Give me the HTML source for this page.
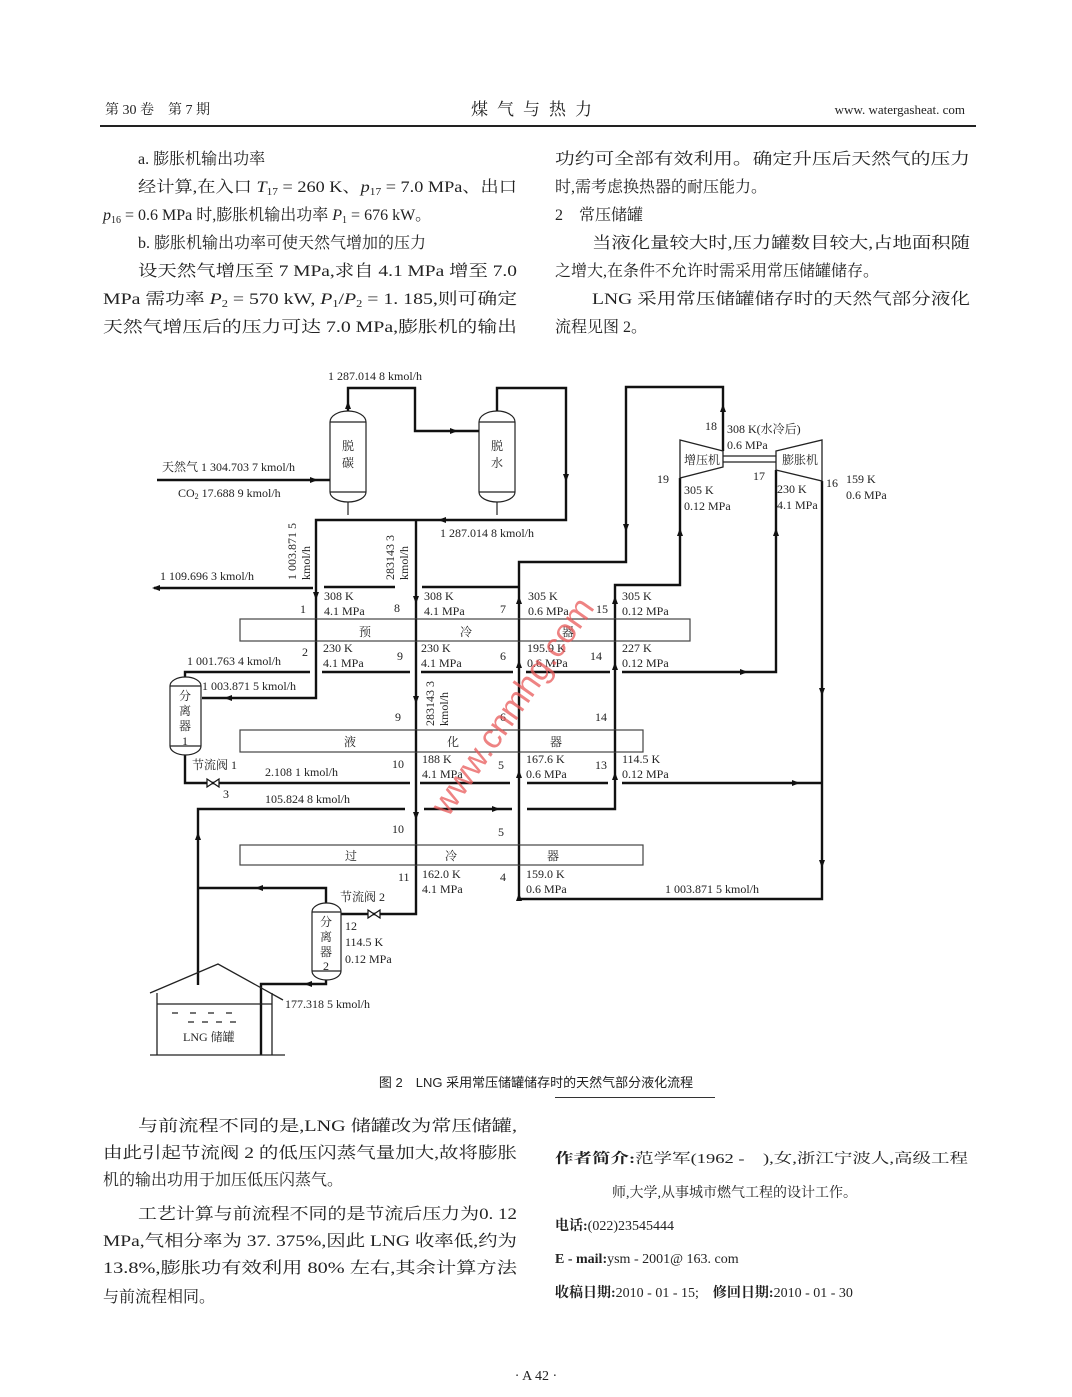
<!DOCTYPE html>
<html><head><meta charset="utf-8"><style>
html,body{margin:0;padding:0;background:#fff;}
svg{display:block;}
.b{font-family:"Liberation Serif","Noto Serif CJK SC",serif;font-size:16px;fill:#222;}
.d{font-family:"Liberation Serif","Noto Serif CJK SC",serif;font-size:12px;fill:#222;}
.p{fill:none;stroke:#111;stroke-width:2.4;}
.bx{fill:none;stroke:#444;stroke-width:1.2;}
</style></head><body>
<svg width="1072" height="1397" viewBox="0 0 1072 1397" xmlns="http://www.w3.org/2000/svg">
<defs>
<polygon id="a" points="0,0 -8,-3 -8,3" fill="#111"/>
</defs>
<!-- header -->
<text class="b" x="105" y="114" style="font-size:14px">第 30 卷　第 7 期</text>
<text class="b" x="536" y="115" text-anchor="middle" style="font-size:17px" letter-spacing="9">煤气与热力</text>
<text class="b" x="965" y="114" text-anchor="end" style="font-size:13px">www. watergasheat. com</text>
<rect x="100" y="125" width="876" height="2" fill="#222"/>

<!-- top text left -->
<text class="b" x="138" y="164">a. 膨胀机输出功率</text>
<text class="b" x="138" y="192" textLength="379" lengthAdjust="spacingAndGlyphs">经计算,在入口 <tspan font-style="italic">T</tspan><tspan font-size="10" dy="3">17</tspan><tspan dy="-3"> = 260 K、</tspan><tspan font-style="italic">p</tspan><tspan font-size="10" dy="3">17</tspan><tspan dy="-3"> = 7.0 MPa、出口</tspan></text>
<text class="b" x="103" y="220"><tspan font-style="italic">p</tspan><tspan font-size="10" dy="3">16</tspan><tspan dy="-3"> = 0.6 MPa 时,膨胀机输出功率 </tspan><tspan font-style="italic">P</tspan><tspan font-size="10" dy="3">1</tspan><tspan dy="-3"> = 676 kW。</tspan></text>
<text class="b" x="138" y="248">b. 膨胀机输出功率可使天然气增加的压力</text>
<text class="b" x="138" y="276" textLength="379" lengthAdjust="spacingAndGlyphs">设天然气增压至 7 MPa,求自 4.1 MPa 增至 7.0</text>
<text class="b" x="103" y="304" textLength="414" lengthAdjust="spacingAndGlyphs">MPa 需功率 <tspan font-style="italic">P</tspan><tspan font-size="10" dy="3">2</tspan><tspan dy="-3"> = 570 kW, </tspan><tspan font-style="italic">P</tspan><tspan font-size="10" dy="3">1</tspan><tspan dy="-3">/</tspan><tspan font-style="italic">P</tspan><tspan font-size="10" dy="3">2</tspan><tspan dy="-3"> = 1. 185,则可确定</tspan></text>
<text class="b" x="103" y="332" textLength="414" lengthAdjust="spacingAndGlyphs">天然气增压后的压力可达 7.0 MPa,膨胀机的输出</text>
<!-- top text right -->
<text class="b" x="555" y="164" textLength="415" lengthAdjust="spacingAndGlyphs">功约可全部有效利用。确定升压后天然气的压力</text>
<text class="b" x="555" y="192">时,需考虑换热器的耐压能力。</text>
<text class="b" x="555" y="220">2　常压储罐</text>
<text class="b" x="592" y="248" textLength="378" lengthAdjust="spacingAndGlyphs">当液化量较大时,压力罐数目较大,占地面积随</text>
<text class="b" x="555" y="276">之增大,在条件不允许时需采用常压储罐储存。</text>
<text class="b" x="592" y="304" textLength="378" lengthAdjust="spacingAndGlyphs">LNG 采用常压储罐储存时的天然气部分液化</text>
<text class="b" x="555" y="332">流程见图 2。</text>

<!-- DIAGRAM -->
<!-- columns -->
<path class="bx" d="M330,422 A18,11 0 0 1 366,422 L366,492 A18,10 0 0 1 330,492 Z M330,422 H366 M330,492 H366" style="stroke:#222"/>
<path class="bx" d="M479,422 A18,11 0 0 1 515,422 L515,492 A18,10 0 0 1 479,492 Z M479,422 H515 M479,492 H515" style="stroke:#222"/>
<text class="d" x="348" y="450" text-anchor="middle" font-size="13">脱</text>
<text class="d" x="348" y="467" text-anchor="middle" font-size="13">碳</text>
<text class="d" x="497" y="450" text-anchor="middle" font-size="13">脱</text>
<text class="d" x="497" y="467" text-anchor="middle" font-size="13">水</text>
<path d="M348,502 V515 M497,502 V515" stroke="#222" stroke-width="1.2"/>

<path class="p" d="M348,411 V388 H415 V431 H479"/>
<path class="p" d="M497,411 V388 H566 V520 H316 V698 H202"/>
<use href="#a" transform="translate(348,401) rotate(-90)"/>
<use href="#a" transform="translate(458,431)"/>
<use href="#a" transform="translate(566,482) rotate(90)"/>
<use href="#a" transform="translate(438,520) rotate(180)"/>
<use href="#a" transform="translate(224,698) rotate(180)"/>
<use href="#a" transform="translate(316,600) rotate(90)"/>
<!-- feed -->
<path class="p" d="M157,480 H330"/>
<use href="#a" transform="translate(318,480)"/>
<text class="d" x="162" y="471">天然气 1 304.703 7 kmol/h</text>
<text class="d" x="178" y="497">CO<tspan font-size="8" dy="2">2</tspan><tspan dy="-2"> 17.688 9 kmol/h</tspan></text>
<text class="d" x="328" y="380">1 287.014 8 kmol/h</text>
<text class="d" x="440" y="537">1 287.014 8 kmol/h</text>
<!-- stream 1 out -->
<path class="p" d="M154,588 H313"/>
<use href="#a" transform="translate(152,588) rotate(180)"/>
<text class="d" x="160" y="580">1 109.696 3 kmol/h</text>
<text class="d" transform="translate(296,580) rotate(-90)">1 003.871 5</text>
<text class="d" transform="translate(310,580) rotate(-90)">kmol/h</text>
<text class="d" transform="translate(394,580) rotate(-90)">283143 3</text>
<text class="d" transform="translate(408,580) rotate(-90)">kmol/h</text>
<text class="d" transform="translate(434,726) rotate(-90)">283143 3</text>
<text class="d" transform="translate(448,726) rotate(-90)">kmol/h</text>

<!-- vertical 416 -->
<path class="p" d="M416,520 V914 H341"/>
<use href="#a" transform="translate(416,604) rotate(90)"/>
<use href="#a" transform="translate(416,704) rotate(90)"/>
<use href="#a" transform="translate(416,820) rotate(90)"/>
<!-- segments above precooler -->
<path class="p" d="M324,587 H395 M422,587 H519"/>
<!-- 519 loop to compressor outlet -->
<path class="p" d="M519,899 V562 H626 V387 H723 V451"/>
<use href="#a" transform="translate(519,596) rotate(-90)"/>
<use href="#a" transform="translate(519,660) rotate(-90)"/>
<use href="#a" transform="translate(519,770) rotate(-90)"/>
<use href="#a" transform="translate(519,893) rotate(-90)"/>
<use href="#a" transform="translate(626,532) rotate(90)"/>
<use href="#a" transform="translate(723,404) rotate(-90)"/>
<path class="p" d="M519,899 H822 V481"/>
<use href="#a" transform="translate(822,696) rotate(90)"/>
<use href="#a" transform="translate(822,868) rotate(90)"/>
<!-- 615 loop to compressor inlet -->
<path class="p" d="M527,809 H615 V585 H680 V478"/>
<use href="#a" transform="translate(615,596) rotate(-90)"/>
<use href="#a" transform="translate(615,662) rotate(-90)"/>
<use href="#a" transform="translate(615,772) rotate(-90)"/>
<use href="#a" transform="translate(680,528) rotate(-90)"/>
<!-- expander inlet -->
<path class="p" d="M622,672 H776 V470"/>
<use href="#a" transform="translate(748,672)"/>
<use href="#a" transform="translate(776,528) rotate(-90)"/>
<!-- lines below precooler -->
<path class="p" d="M185,686 V672 H310 M322,672 H410 M421,672 H513 M526,672 H610"/>
<!-- liquefier lines -->
<path class="p" d="M185,755 V783 H410 M420,783 H510 M527,783 H608 M622,783 H822"/>
<use href="#a" transform="translate(800,783)"/>
<path class="p" d="M198,985 V809 H405 M424,809 H512"/>
<use href="#a" transform="translate(500,809)"/>
<use href="#a" transform="translate(198,832) rotate(-90)"/>
<!-- sep2 lines -->
<path class="p" d="M326,903 V888 H198"/>
<use href="#a" transform="translate(255,888) rotate(180)"/>
<path class="p" d="M326,980 V984 H261 V1055"/>
<use href="#a" transform="translate(304,984) rotate(180)"/>
<!-- valves -->
<path d="M207,779 L219,787 L219,779 L207,787 Z" fill="#fff" stroke="#111" stroke-width="1.2"/>
<path d="M368,910 L380,918 L380,910 L368,918 Z" fill="#fff" stroke="#111" stroke-width="1.2"/>

<!-- exchangers -->
<rect class="bx" x="240" y="619" width="450" height="22" fill="#fff"/>
<rect class="bx" x="240" y="730" width="403" height="22" fill="#fff"/>
<rect class="bx" x="240" y="845" width="403" height="20" fill="#fff"/>
<path class="p" d="M316,619 V641 M416,619 V641 M519,619 V641 M615,619 V641 M416,730 V752 M519,730 V752 M615,730 V752 M416,845 V865 M519,845 V865" style="stroke-width:1.2"/>
<text class="d" x="365" y="636" text-anchor="middle">预</text>
<text class="d" x="466" y="636" text-anchor="middle">冷</text>
<text class="d" x="568" y="636" text-anchor="middle">器</text>
<text class="d" x="350" y="746" text-anchor="middle">液</text>
<text class="d" x="453" y="746" text-anchor="middle">化</text>
<text class="d" x="556" y="746" text-anchor="middle">器</text>
<text class="d" x="351" y="860" text-anchor="middle">过</text>
<text class="d" x="451" y="860" text-anchor="middle">冷</text>
<text class="d" x="553" y="860" text-anchor="middle">器</text>

<!-- separator 1 -->
<path d="M170,686 A15.5,9 0 0 1 201,686 L201,746 A15.5,9 0 0 1 170,746 Z M170,686 H201 M170,746 H201" fill="#fff" stroke="#222" stroke-width="1.2"/>
<text class="d" x="185" y="700" text-anchor="middle">分</text>
<text class="d" x="185" y="715" text-anchor="middle">离</text>
<text class="d" x="185" y="730" text-anchor="middle">器</text>
<text class="d" x="185" y="745" text-anchor="middle">1</text>
<!-- separator 2 -->
<path d="M312,912 A14.5,9 0 0 1 341,912 L341,971 A14.5,9 0 0 1 312,971 Z M312,912 H341 M312,971 H341" fill="#fff" stroke="#222" stroke-width="1.2"/>
<text class="d" x="326" y="926" text-anchor="middle">分</text>
<text class="d" x="326" y="941" text-anchor="middle">离</text>
<text class="d" x="326" y="956" text-anchor="middle">器</text>
<text class="d" x="326" y="970" text-anchor="middle">2</text>
<!-- LNG tank -->
<path d="M150,993 L218,964 L283,1000 M157,993 V1055 M272,993 V1055 M150,1055 H285 M157,1004 H272" fill="none" stroke="#222" stroke-width="1.3"/>
<path d="M172,1013 h6 M190,1013 h6 M208,1013 h6 M226,1013 h6 M188,1022 h6 M202,1022 h6 M216,1022 h6 M230,1022 h6" stroke="#222" stroke-width="1.2"/>
<text class="d" x="183" y="1041">LNG 储罐</text>
<text class="d" x="285" y="1008">177.318 5 kmol/h</text>

<!-- compressor / expander -->
<polygon points="680,440 723,451 723,467 680,478" fill="#fff" stroke="#222" stroke-width="1.3"/>
<polygon points="776,451 822,440 822,481 776,470" fill="#fff" stroke="#222" stroke-width="1.3"/>
<path d="M723,456 H776 M723,462 H776" stroke="#222" stroke-width="1.2"/>
<text class="d" x="702" y="464" text-anchor="middle">增压机</text>
<text class="d" x="800" y="464" text-anchor="middle">膨胀机</text>
<text class="d" x="705" y="430">18</text>
<text class="d" x="727" y="433">308 K(水冷后)</text>
<text class="d" x="727" y="449">0.6 MPa</text>
<text class="d" x="657" y="483">19</text>
<text class="d" x="684" y="494">305 K</text>
<text class="d" x="684" y="510">0.12 MPa</text>
<text class="d" x="753" y="480">17</text>
<text class="d" x="777" y="493">230 K</text>
<text class="d" x="777" y="509">4.1 MPa</text>
<text class="d" x="826" y="487">16</text>
<text class="d" x="846" y="483">159 K</text>
<text class="d" x="846" y="499">0.6 MPa</text>

<!-- precooler labels -->
<text class="d" x="300" y="613">1</text>
<text class="d" x="324" y="600">308 K</text><text class="d" x="324" y="615">4.1 MPa</text>
<text class="d" x="394" y="612">8</text>
<text class="d" x="424" y="600">308 K</text><text class="d" x="424" y="615">4.1 MPa</text>
<text class="d" x="500" y="613">7</text>
<text class="d" x="528" y="600">305 K</text><text class="d" x="528" y="615">0.6 MPa</text>
<text class="d" x="596" y="613">15</text>
<text class="d" x="622" y="600">305 K</text><text class="d" x="622" y="615">0.12 MPa</text>
<text class="d" x="302" y="656">2</text>
<text class="d" x="323" y="652">230 K</text><text class="d" x="323" y="667">4.1 MPa</text>
<text class="d" x="397" y="660">9</text>
<text class="d" x="421" y="652">230 K</text><text class="d" x="421" y="667">4.1 MPa</text>
<text class="d" x="500" y="660">6</text>
<text class="d" x="527" y="652">195.9 K</text><text class="d" x="527" y="667">0.6 MPa</text>
<text class="d" x="590" y="660">14</text>
<text class="d" x="622" y="652">227 K</text><text class="d" x="622" y="667">0.12 MPa</text>
<text class="d" x="187" y="665">1 001.763 4 kmol/h</text>
<text class="d" x="202" y="690">1 003.871 5 kmol/h</text>
<!-- liquefier labels -->
<text class="d" x="395" y="721">9</text>
<text class="d" x="500" y="721">6</text>
<text class="d" x="595" y="721">14</text>
<text class="d" x="192" y="769">节流阀 1</text>
<text class="d" x="265" y="776">2.108 1 kmol/h</text>
<text class="d" x="223" y="798">3</text>
<text class="d" x="265" y="803">105.824 8 kmol/h</text>
<text class="d" x="392" y="768">10</text>
<text class="d" x="422" y="763">188 K</text><text class="d" x="422" y="778">4.1 MPa</text>
<text class="d" x="498" y="769">5</text>
<text class="d" x="526" y="763">167.6 K</text><text class="d" x="526" y="778">0.6 MPa</text>
<text class="d" x="595" y="769">13</text>
<text class="d" x="622" y="763">114.5 K</text><text class="d" x="622" y="778">0.12 MPa</text>
<text class="d" x="392" y="833">10</text>
<text class="d" x="498" y="836">5</text>
<!-- subcooler labels -->
<text class="d" x="398" y="881">11</text>
<text class="d" x="422" y="878">162.0 K</text><text class="d" x="422" y="893">4.1 MPa</text>
<text class="d" x="500" y="881">4</text>
<text class="d" x="526" y="878">159.0 K</text><text class="d" x="526" y="893">0.6 MPa</text>
<text class="d" x="665" y="893">1 003.871 5 kmol/h</text>
<text class="d" x="340" y="901">节流阀 2</text>
<text class="d" x="345" y="930">12</text>
<text class="d" x="345" y="946">114.5 K</text>
<text class="d" x="345" y="963">0.12 MPa</text>

<!-- watermark -->
<text x="0" y="0" transform="translate(448,818) rotate(-55)" font-family="Liberation Sans,sans-serif" font-size="34" fill="#e85a5a" fill-opacity="0.75">www.cnmhg.com</text>

<!-- caption -->
<text x="536" y="1087" text-anchor="middle" font-family="Liberation Sans,'Noto Sans CJK SC',sans-serif" font-size="13" fill="#222">图 2　LNG 采用常压储罐储存时的天然气部分液化流程</text>

<!-- bottom left -->
<text class="b" x="138" y="1131" textLength="379" lengthAdjust="spacingAndGlyphs">与前流程不同的是,LNG 储罐改为常压储罐,</text>
<text class="b" x="103" y="1158" textLength="414" lengthAdjust="spacingAndGlyphs">由此引起节流阀 2 的低压闪蒸气量加大,故将膨胀</text>
<text class="b" x="103" y="1185">机的输出功用于加压低压闪蒸气。</text>
<text class="b" x="138" y="1219" textLength="379" lengthAdjust="spacingAndGlyphs">工艺计算与前流程不同的是节流后压力为0. 12</text>
<text class="b" x="103" y="1246" textLength="414" lengthAdjust="spacingAndGlyphs">MPa,气相分率为 37. 375%,因此 LNG 收率低,约为</text>
<text class="b" x="103" y="1273" textLength="414" lengthAdjust="spacingAndGlyphs">13.8%,膨胀功有效利用 80% 左右,其余计算方法</text>
<text class="b" x="103" y="1302">与前流程相同。</text>

<!-- bottom right -->
<rect x="555" y="1097" width="160" height="1" fill="#333"/>
<text class="b" x="555" y="1163" style="font-size:14px" textLength="413" lengthAdjust="spacingAndGlyphs"><tspan font-weight="bold">作者简介:</tspan>范学军(1962 -　),女,浙江宁波人,高级工程</text>
<text class="b" x="612" y="1197" style="font-size:14px">师,大学,从事城市燃气工程的设计工作。</text>
<text class="b" x="555" y="1230" style="font-size:14px"><tspan font-weight="bold">电话:</tspan>(022)23545444</text>
<text class="b" x="555" y="1263" style="font-size:14px"><tspan font-weight="bold">E - mail:</tspan>ysm - 2001@ 163. com</text>
<text class="b" x="555" y="1297" style="font-size:14px"><tspan font-weight="bold">收稿日期:</tspan>2010 - 01 - 15;　<tspan font-weight="bold">修回日期:</tspan>2010 - 01 - 30</text>

<text class="b" x="536" y="1380" text-anchor="middle" style="font-size:14px">· A 42 ·</text>
</svg>
</body></html>
